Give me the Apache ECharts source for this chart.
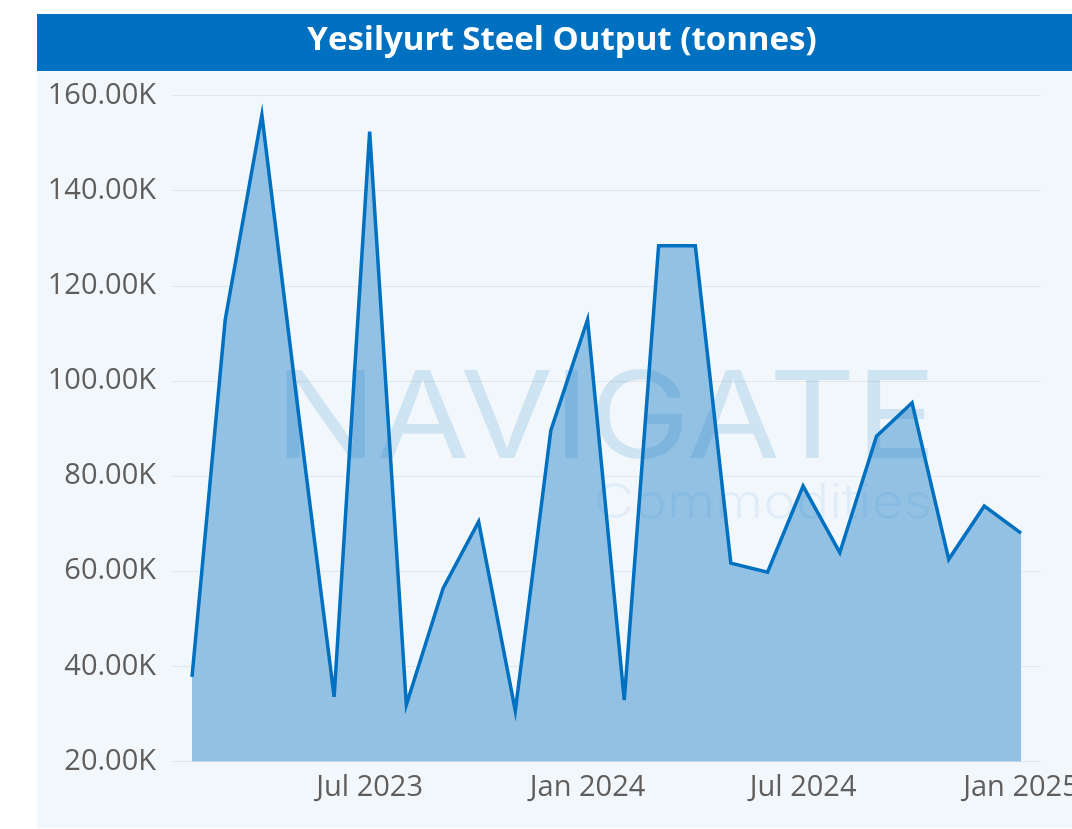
<!DOCTYPE html>
<html>
<head>
<meta charset="utf-8">
<script src="https://cdn.jsdelivr.net/npm/echarts@6/dist/echarts.min.js"></script>
<style>
html,body{margin:0;padding:0;background:#ffffff;overflow:hidden;}
#chart{width:1072px;height:829px;display:block;}
</style>
</head>
<body>
<div id="chart"></div>
<script>
// ---- data ----
const titleText = 'Yesilyurt Steel Output (tonnes)';
const months = ['2023-02-01','2023-03-01','2023-04-01','2023-05-01','2023-06-01','2023-07-01','2023-08-01','2023-09-01','2023-10-01','2023-11-01','2023-12-01','2024-01-01','2024-02-01','2024-03-01','2024-04-01','2024-05-01','2024-06-01','2024-07-01','2024-08-01','2024-09-01','2024-10-01','2024-11-01','2024-12-01','2025-01-01'];
const output = [37800,112800,155900,95000,33600,152400,31900,56400,70400,30700,89600,112900,32900,128400,128400,61700,59800,77900,63900,88400,95400,62500,73700,68000];
const xTickDates = ['2023-07-01','2024-01-01','2024-07-01','2025-01-01'];
const xTickLabels = ['Jul 2023','Jan 2024','Jul 2024','Jan 2025'];
const yMin = 20000, yMax = 160000, yStep = 20000;

// ---- chart ----
const chart = echarts.init(document.getElementById('chart'), null, {renderer:'canvas', width:1072, height:829});
const DAY = 86400000;
const toTs = d => Date.parse(d + 'T00:00:00Z');
const t0 = toTs(months[0]);
const t1 = toTs(months[months.length-1]);
const tickTs = xTickDates.map(toTs);
const labelFont = '"Open Sans", "Noto Sans", sans-serif';

chart.setOption({
  animation:false,
  backgroundColor:'#ffffff',
  graphic:[
    {type:'rect', z:-10, silent:true, shape:{x:37,y:70,width:1040,height:758}, style:{fill:'#f2f7fc'}},
    {type:'rect', z:-9, silent:true, shape:{x:37,y:14,width:1040,height:57}, style:{fill:'#0070c0'}},
    {type:'text', z:10, silent:true, x:562, y:41, style:{text:titleText, fill:'#ffffff', font:'bold 33px "Open Sans", sans-serif', align:'center', verticalAlign:'middle'}},
    {type:'text', z:100, zlevel:1, silent:true, x:275, y:421.7, scaleX:1.114, scaleY:1, style:{text:'NAVIGATE', fill:'rgba(0,112,192,0.14)', font:'400 121px Inter, sans-serif', align:'left', verticalAlign:'middle'}},
    {type:'text', z:100, zlevel:1, silent:true, x:594, y:503.6, scaleX:1.15, scaleY:1, style:{text:'Commodities', fill:'rgba(0,112,192,0.07)', font:'300 48px Inter, sans-serif', align:'left', verticalAlign:'middle'}}
  ],
  grid:{left:172, right:31, top:95.5, bottom:67.5, containLabel:false, outerBoundsMode:'none'},
  xAxis:{
    type:'value',
    min: t0 - 16.9*DAY,
    max: t1 + 16.9*DAY,
    axisLine:{show:false},
    axisTick:{show:false},
    splitLine:{show:false},
    axisLabel:{
      customValues: tickTs,
      margin:12,
      color:'#605e5c',
      fontSize:29,
      fontFamily:labelFont,
      hideOverlap:false,
      formatter:function(v){
        const i = tickTs.indexOf(v);
        return i >= 0 ? xTickLabels[i] : '';
      }
    }
  },
  yAxis:{
    type:'value',
    min:yMin, max:yMax, interval:yStep,
    axisLine:{show:false},
    axisTick:{show:false},
    splitLine:{show:true, lineStyle:{color:'#e4e6e9', width:1}},
    axisLabel:{
      margin:16,
      color:'#605e5c',
      fontSize:29,
      fontFamily:labelFont,
      formatter:function(v){ return (v/1000).toFixed(2) + 'K'; }
    }
  },
  series:[{
    type:'line',
    data: months.map((m,i)=>[toTs(m), output[i]]),
    showSymbol:false,
    symbol:'none',
    lineStyle:{color:'#0070c0', width:3.5, join:'miter'},
    itemStyle:{color:'#0070c0'},
    areaStyle:{color:'#92c1e3', opacity:1, origin:'start'}
  }]
});
</script>
</body>
</html>
